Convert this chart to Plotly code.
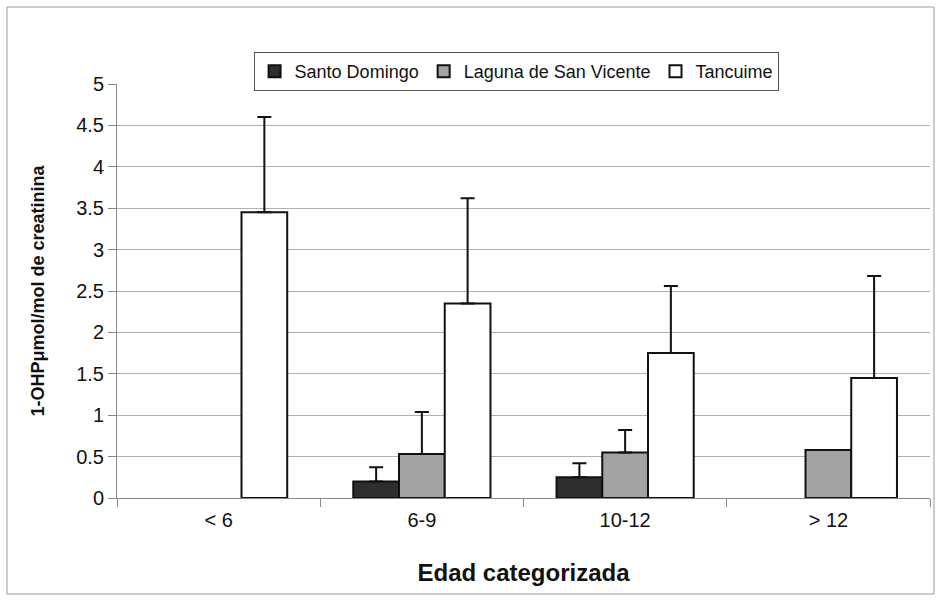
import plotly.graph_objects as go

categories = ["< 6", "6-9", "10-12", "> 12"]
series_names = ["Santo Domingo", "Laguna de San Vicente", "Tancuime"]
santo_domingo = [None, 0.20, 0.25, None]
santo_domingo_err = [None, 0.17, 0.17, None]
laguna = [None, 0.53, 0.55, 0.58]
laguna_err = [None, 0.51, 0.27, None]
tancuime = [3.45, 2.35, 1.75, 1.45]
tancuime_err = [1.15, 1.27, 0.81, 1.23]
colors = ["#2e2e2e", "#a3a3a3", "#ffffff"]

fig = go.Figure()
for name, vals, errs, col in zip(series_names,
                                 [santo_domingo, laguna, tancuime],
                                 [santo_domingo_err, laguna_err, tancuime_err],
                                 colors):
    fig.add_trace(go.Bar(
        x=categories, y=vals, name=name,
        marker=dict(color=col, line=dict(color="#111111", width=2)),
        error_y=dict(type="data", array=errs, symmetric=False,
                     arrayminus=[0] * len(errs),
                     color="#111111", thickness=2, width=7),
    ))

fig.update_layout(
    width=936, height=602,
    barmode="group", bargap=0.325, bargroupgap=0,
    paper_bgcolor="white", plot_bgcolor="white",
    margin=dict(l=117, r=6, t=84, b=104),
    font=dict(family="Liberation Sans, Arial", color="#111111"),
    legend=dict(orientation="h", x=0.168, y=1.077, xanchor="left", yanchor="top",
                bordercolor="#555555", borderwidth=1, bgcolor="white",
                font=dict(size=18), itemwidth=30, traceorder="normal",
                tracegroupgap=0),
    showlegend=True,
)
fig.update_xaxes(
    type="category", showgrid=False, tickson="boundaries",
    ticks="outside", ticklen=8, tickcolor="#888888",
    showline=True, linecolor="#888888", linewidth=1,
    tickfont=dict(size=20), ticklabelstandoff=4,
    title=dict(text="<b>Edad categorizada</b>", font=dict(size=24), standoff=34),
)
fig.update_yaxes(
    range=[0, 5], dtick=0.5, tickformat="~g",
    showgrid=True, gridcolor="#b0b0b0", gridwidth=1,
    ticks="outside", ticklen=8, tickcolor="#888888",
    showline=True, linecolor="#888888", linewidth=1,
    tickfont=dict(size=20), zeroline=False,
    title=dict(text="<b>1-OHPμmol/mol de creatinina</b>", font=dict(size=18), standoff=26),
)
# outer border of the chart
fig.add_shape(type="rect", xref="paper", yref="paper",
              x0=-110/813, x1=817/813, y0=-96/414, y1=(498-7)/414,
              line=dict(color="#999999", width=1), layer="below")

fig.write_html("out.html")
